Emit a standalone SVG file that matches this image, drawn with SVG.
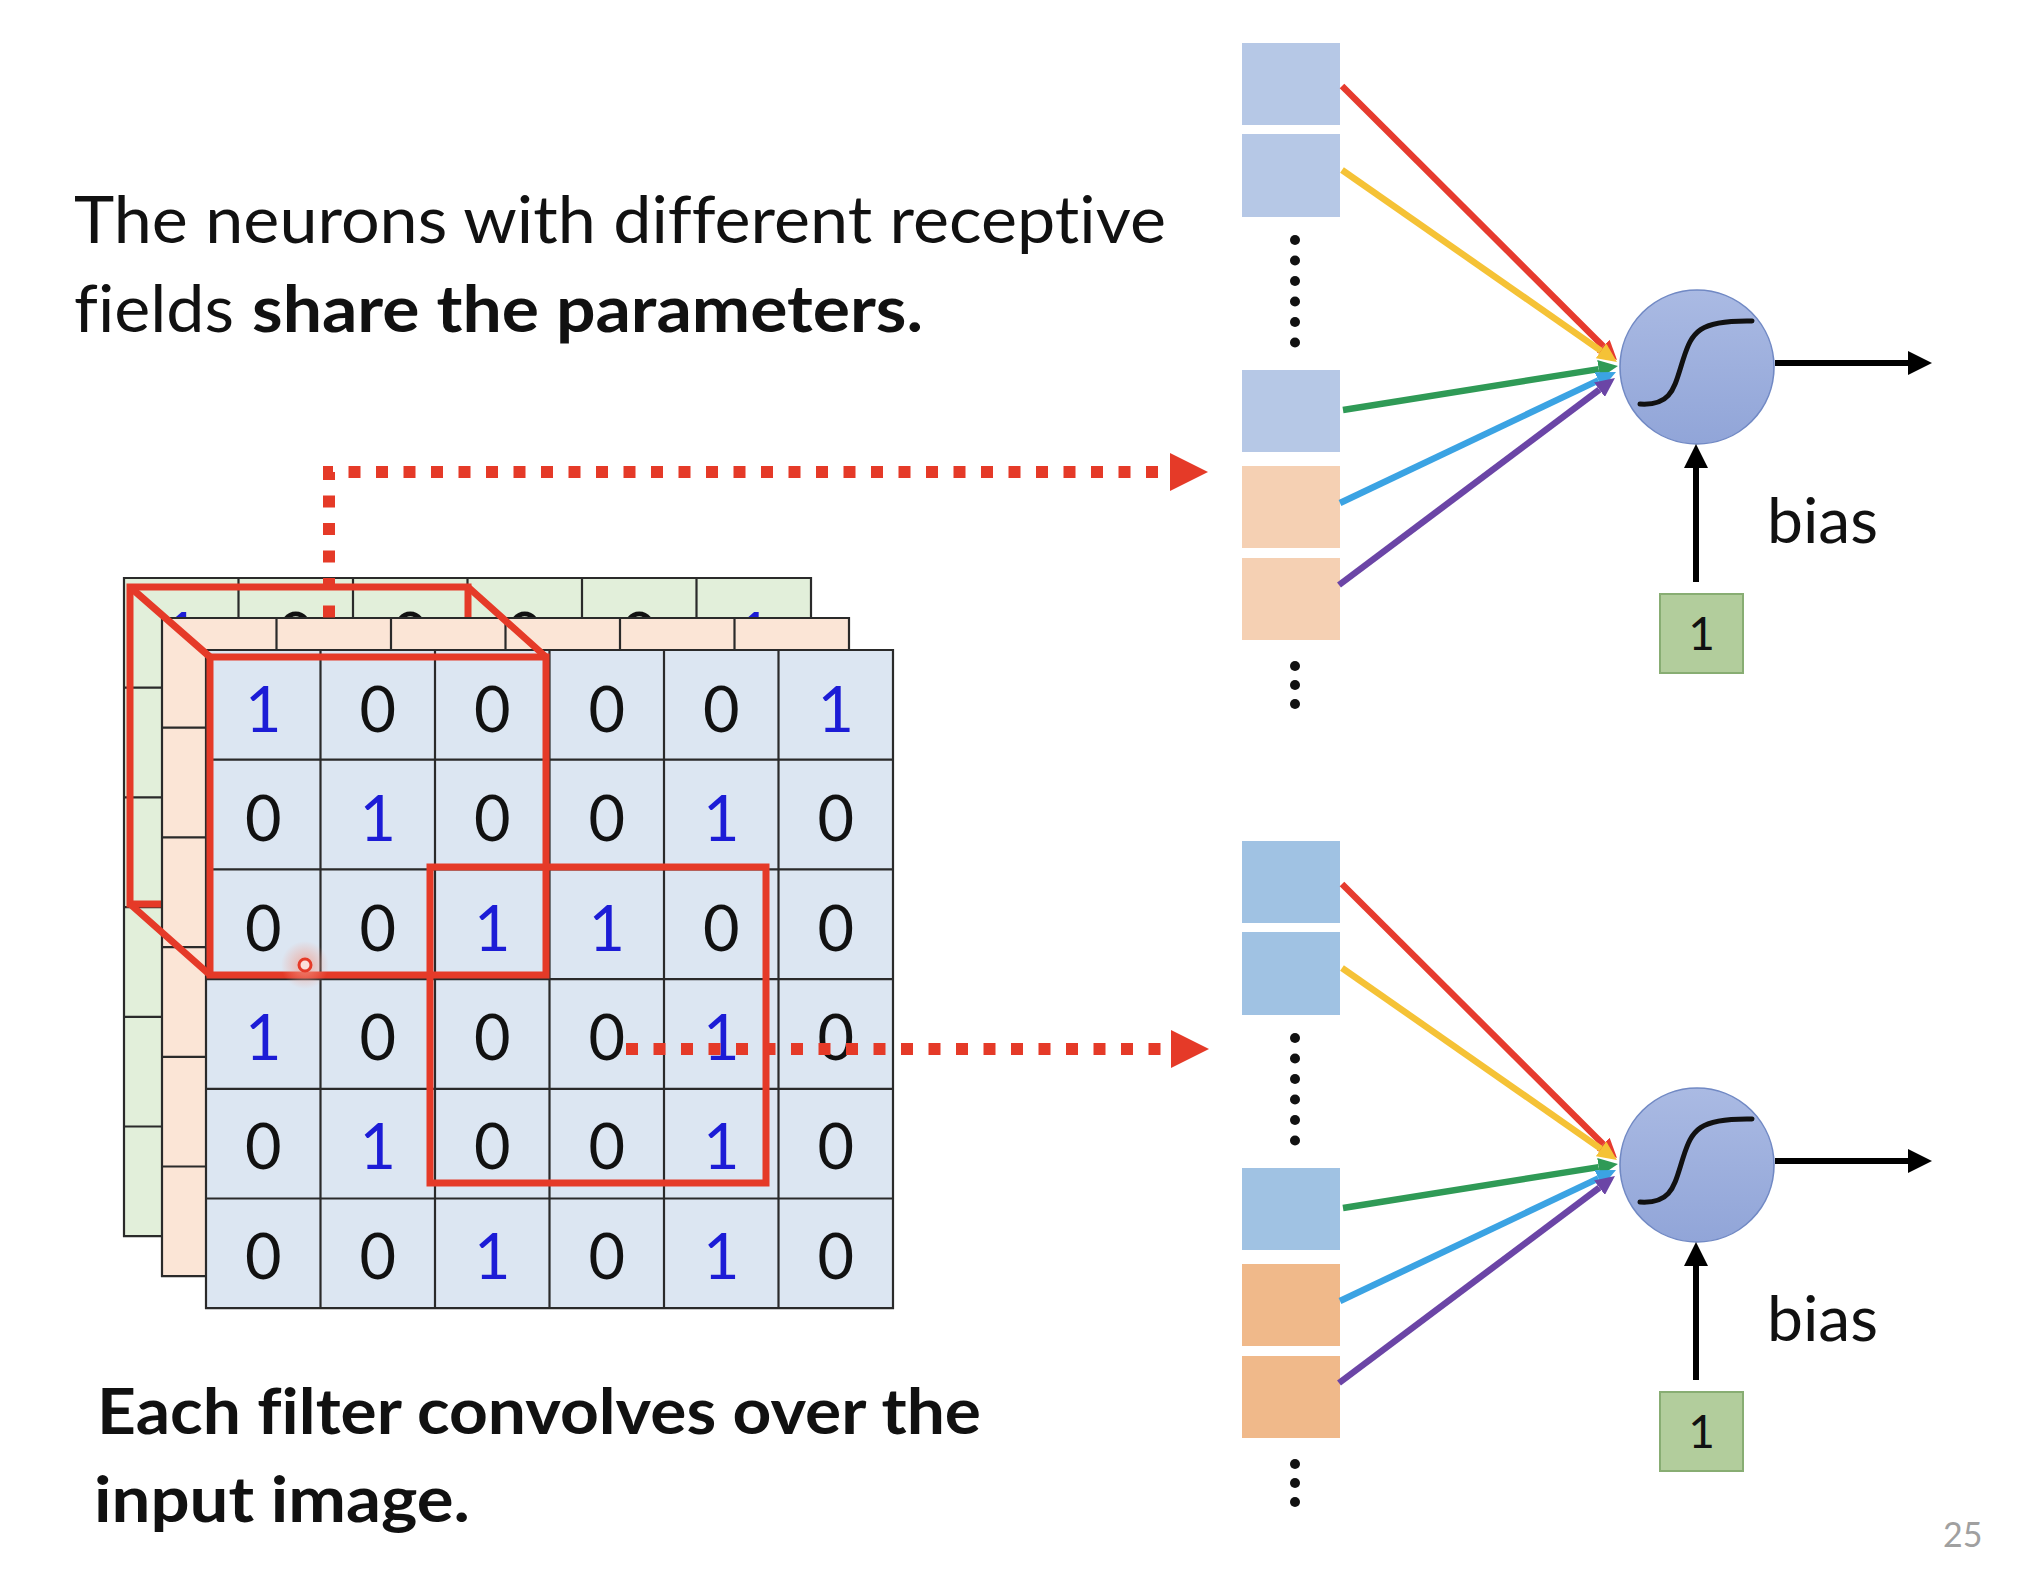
<svg xmlns="http://www.w3.org/2000/svg" width="2034" height="1584" viewBox="0 0 2034 1584">
<defs>
<style>
text{font-variant-ligatures:none}
.txt{font-family:Lato,"Open Sans","Liberation Sans",sans-serif;fill:#111}
.b{font-weight:bold}
.d{font-family:Lato,"Open Sans","Liberation Sans",sans-serif;font-size:63px;text-anchor:middle;fill:#111}
.d1{fill:#1c1cd6}
.gl{stroke:#2a2a2a;stroke-width:2.2;fill:none}
.frame{fill:none;stroke:#e53a28;stroke-width:7;stroke-linejoin:miter}
.dot{fill:none;stroke:#e53a28;stroke-width:12;stroke-dasharray:12 15.5}
.head{fill:#e53a28}
.sq1b{fill:#b6c8e6}.sq1p{fill:#f5d0b3}
.sq2b{fill:#a0c2e3}.sq2p{fill:#f0b98a}
.ell{fill:#111}
.neuron{fill:url(#ng);stroke:#7189c4;stroke-width:1.6}
.sig{fill:none;stroke:#111;stroke-width:5;stroke-linecap:round}
.one{fill:#b2cd9c;stroke:#88ad73;stroke-width:2}
.w{stroke-width:6.5;fill:none}
.blk{stroke:#000;stroke-width:6;fill:none}
</style>
<linearGradient id="ng" x1="0" y1="0" x2="0" y2="1">
<stop offset="0" stop-color="#aabae3"/>
<stop offset="1" stop-color="#91a5d8"/>
</linearGradient>
<radialGradient id="glow">
<stop offset="0" stop-color="#f2a090" stop-opacity="0.8"/>
<stop offset="1" stop-color="#f2a090" stop-opacity="0"/>
</radialGradient>
<marker id="mR" viewBox="0 0 3 2.8" refX="0" refY="1.4" markerWidth="3" markerHeight="2.8" orient="auto" markerUnits="strokeWidth"><path d="M0,0 L3,1.4 L0,2.8 z" fill="#e63b2e"/></marker>
<marker id="mY" viewBox="0 0 3 2.8" refX="0" refY="1.4" markerWidth="3" markerHeight="2.8" orient="auto" markerUnits="strokeWidth"><path d="M0,0 L3,1.4 L0,2.8 z" fill="#f5c236"/></marker>
<marker id="mG" viewBox="0 0 3 2.8" refX="0" refY="1.4" markerWidth="3" markerHeight="2.8" orient="auto" markerUnits="strokeWidth"><path d="M0,0 L3,1.4 L0,2.8 z" fill="#2f9a56"/></marker>
<marker id="mB" viewBox="0 0 3 2.8" refX="0" refY="1.4" markerWidth="3" markerHeight="2.8" orient="auto" markerUnits="strokeWidth"><path d="M0,0 L3,1.4 L0,2.8 z" fill="#3ba3e3"/></marker>
<marker id="mP" viewBox="0 0 3 2.8" refX="0" refY="1.4" markerWidth="3" markerHeight="2.8" orient="auto" markerUnits="strokeWidth"><path d="M0,0 L3,1.4 L0,2.8 z" fill="#6b45a6"/></marker>
<marker id="mK" viewBox="0 0 4 4" refX="0" refY="2" markerWidth="4" markerHeight="4" orient="auto" markerUnits="strokeWidth"><path d="M0,0 L4,2 L0,4 z" fill="#000"/></marker>
</defs>
<rect width="2034" height="1584" fill="#ffffff"/>

<g id="caption-top">
<text class="txt" x="74" y="243" font-size="65" textLength="1092" lengthAdjust="spacingAndGlyphs">The neurons with different receptive</text>
<text class="txt" x="74" y="332" font-size="65" textLength="160" lengthAdjust="spacingAndGlyphs">fields</text>
<text class="txt b" x="252" y="332" font-size="65" textLength="671" lengthAdjust="spacingAndGlyphs">share the parameters.</text>
</g>

<g id="caption-bottom">
<text class="txt b" x="97" y="1434" font-size="64" textLength="884" lengthAdjust="spacingAndGlyphs">Each filter convolves over the</text>
<text class="txt b" x="94" y="1522" font-size="64" textLength="376" lengthAdjust="spacingAndGlyphs">input image.</text>
</g>

<g id="input-image">
<g id="layer-green">
<rect x="124" y="578" width="687" height="658.2" fill="#e2efda"/>
<text class="d d1" x="181.25" y="658">1</text><text class="d" x="295.75" y="658">0</text><text class="d" x="410.25" y="658">0</text><text class="d" x="524.75" y="658">0</text><text class="d" x="639.25" y="658">0</text><text class="d d1" x="753.75" y="658">1</text>
<path class="gl" d="M124,578H811V1236.2H124Z M238.5,578V1236.2 M353,578V1236.2 M467.5,578V1236.2 M582,578V1236.2 M696.5,578V1236.2 M124,687.7H811 M124,797.4H811 M124,907.1H811 M124,1016.8H811 M124,1126.5H811"/>
</g>
<rect id="filter-back" class="frame" x="130" y="587" width="338" height="317"/>
<g id="layer-peach">
<rect x="162" y="618" width="687" height="658.2" fill="#fbe5d6"/>
<path class="gl" d="M162,618H849V1276.2H162Z M276.5,618V1276.2 M391,618V1276.2 M505.5,618V1276.2 M620,618V1276.2 M734.5,618V1276.2 M162,727.7H849 M162,837.4H849 M162,947.1H849 M162,1056.8H849 M162,1166.5H849"/>
</g>
<g id="layer-front">
<rect x="206" y="650" width="687" height="658.2" fill="#dce6f2"/>
<path class="gl" d="M206,650H893V1308.2H206Z M320.5,650V1308.2 M435,650V1308.2 M549.5,650V1308.2 M664,650V1308.2 M778.5,650V1308.2 M206,759.7H893 M206,869.4H893 M206,979.1H893 M206,1088.8H893 M206,1198.5H893"/>
<text class="d d1" x="263.25" y="732">1</text><text class="d" x="377.75" y="732">0</text><text class="d" x="492.25" y="732">0</text><text class="d" x="606.75" y="732">0</text><text class="d" x="721.25" y="732">0</text><text class="d d1" x="835.75" y="732">1</text>
<text class="d" x="263.25" y="841.3">0</text><text class="d d1" x="377.75" y="841.3">1</text><text class="d" x="492.25" y="841.3">0</text><text class="d" x="606.75" y="841.3">0</text><text class="d d1" x="721.25" y="841.3">1</text><text class="d" x="835.75" y="841.3">0</text>
<text class="d" x="263.25" y="950.6">0</text><text class="d" x="377.75" y="950.6">0</text><text class="d d1" x="492.25" y="950.6">1</text><text class="d d1" x="606.75" y="950.6">1</text><text class="d" x="721.25" y="950.6">0</text><text class="d" x="835.75" y="950.6">0</text>
<text class="d d1" x="263.25" y="1059.9">1</text><text class="d" x="377.75" y="1059.9">0</text><text class="d" x="492.25" y="1059.9">0</text><text class="d" x="606.75" y="1059.9">0</text><text class="d d1" x="721.25" y="1059.9">1</text><text class="d" x="835.75" y="1059.9">0</text>
<text class="d" x="263.25" y="1169.2">0</text><text class="d d1" x="377.75" y="1169.2">1</text><text class="d" x="492.25" y="1169.2">0</text><text class="d" x="606.75" y="1169.2">0</text><text class="d d1" x="721.25" y="1169.2">1</text><text class="d" x="835.75" y="1169.2">0</text>
<text class="d" x="263.25" y="1278.5">0</text><text class="d" x="377.75" y="1278.5">0</text><text class="d d1" x="492.25" y="1278.5">1</text><text class="d" x="606.75" y="1278.5">0</text><text class="d d1" x="721.25" y="1278.5">1</text><text class="d" x="835.75" y="1278.5">0</text>
</g>
<g id="filter-box">
<rect class="frame" x="210" y="657" width="336" height="318"/>
<path class="frame" d="M130,587L210,657 M468,587L546,657 M130,904L210,975"/>
</g>
<rect id="filter-box-2" class="frame" x="430" y="867" width="336" height="316"/>
<g id="cursor">
<circle cx="305" cy="965" r="24" fill="url(#glow)"/>
<circle cx="305" cy="965" r="6" fill="#fbe0da" stroke="#e53a28" stroke-width="3"/>
</g>
</g>

<g id="neuron-1">
<rect class="sq1b" x="1242" y="43" width="98" height="82"/>
<rect class="sq1b" x="1242" y="134" width="98" height="83"/>
<circle class="ell" cx="1295" cy="240" r="5"/><circle class="ell" cx="1295" cy="260.5" r="5"/><circle class="ell" cx="1295" cy="281" r="5"/><circle class="ell" cx="1295" cy="301.5" r="5"/><circle class="ell" cx="1295" cy="322" r="5"/><circle class="ell" cx="1295" cy="342.5" r="5"/>
<rect class="sq1b" x="1242" y="370" width="98" height="82"/>
<rect class="sq1p" x="1242" y="466" width="98" height="82"/>
<rect class="sq1p" x="1242" y="558" width="98" height="82"/>
<circle class="ell" cx="1295" cy="666" r="5"/><circle class="ell" cx="1295" cy="685" r="5"/><circle class="ell" cx="1295" cy="704" r="5"/>
<circle class="neuron" cx="1697" cy="367" r="77"/>
<path class="sig" d="M1640,404 C1672,406 1674,388 1683,360 C1692,332 1698,320 1752,321"/>
<rect class="one" x="1660" y="594" width="83" height="79"/>
<text class="txt" x="1701.5" y="650" font-size="46" text-anchor="middle">1</text>
<text class="txt" x="1767" y="543" font-size="62" textLength="111" lengthAdjust="spacingAndGlyphs">bias</text>
</g>

<g id="neuron-2">
<rect class="sq2b" x="1242" y="841" width="98" height="82"/>
<rect class="sq2b" x="1242" y="932" width="98" height="83"/>
<circle class="ell" cx="1295" cy="1038" r="5"/><circle class="ell" cx="1295" cy="1058.5" r="5"/><circle class="ell" cx="1295" cy="1079" r="5"/><circle class="ell" cx="1295" cy="1099.5" r="5"/><circle class="ell" cx="1295" cy="1120" r="5"/><circle class="ell" cx="1295" cy="1140.5" r="5"/>
<rect class="sq2b" x="1242" y="1168" width="98" height="82"/>
<rect class="sq2p" x="1242" y="1264" width="98" height="82"/>
<rect class="sq2p" x="1242" y="1356" width="98" height="82"/>
<circle class="ell" cx="1295" cy="1464" r="5"/><circle class="ell" cx="1295" cy="1483" r="5"/><circle class="ell" cx="1295" cy="1502" r="5"/>
<circle class="neuron" cx="1697" cy="1165" r="77"/>
<path class="sig" d="M1640,1202 C1672,1204 1674,1186 1683,1158 C1692,1130 1698,1118 1752,1119"/>
<rect class="one" x="1660" y="1392" width="83" height="79"/>
<text class="txt" x="1701.5" y="1448" font-size="46" text-anchor="middle">1</text>
<text class="txt" x="1767" y="1341" font-size="62" textLength="111" lengthAdjust="spacingAndGlyphs">bias</text>
</g>

<g id="connectors">
<path class="dot" d="M329,617.5V472H1163"/>
<polygon class="head" points="1170,453 1208,472 1170,491"/>
<path class="dot" d="M626,1049H1163"/>
<polygon class="head" points="1171,1030 1209,1049 1171,1068"/>

<line class="w" x1="1342" y1="86" x2="1603.2" y2="346.2" stroke="#e63b2e" marker-end="url(#mR)"/>
<line class="w" x1="1342" y1="170" x2="1601" y2="350.8" stroke="#f5c236" marker-end="url(#mY)"/>
<line class="w" x1="1343" y1="410" x2="1598.7" y2="369.1" stroke="#2f9a56" marker-end="url(#mG)"/>
<line class="w" x1="1340" y1="503" x2="1598.4" y2="380.4" stroke="#3ba3e3" marker-end="url(#mB)"/>
<line class="w" x1="1339" y1="585" x2="1599.4" y2="389.7" stroke="#6b45a6" marker-end="url(#mP)"/>
<line class="blk" x1="1775" y1="363" x2="1908" y2="363" marker-end="url(#mK)"/>
<line class="blk" x1="1696" y1="582" x2="1696" y2="468" marker-end="url(#mK)"/>

<line class="w" x1="1342" y1="884" x2="1603.2" y2="1144.2" stroke="#e63b2e" marker-end="url(#mR)"/>
<line class="w" x1="1342" y1="968" x2="1601" y2="1148.8" stroke="#f5c236" marker-end="url(#mY)"/>
<line class="w" x1="1343" y1="1208" x2="1598.7" y2="1167.1" stroke="#2f9a56" marker-end="url(#mG)"/>
<line class="w" x1="1340" y1="1301" x2="1598.4" y2="1178.4" stroke="#3ba3e3" marker-end="url(#mB)"/>
<line class="w" x1="1339" y1="1383" x2="1599.4" y2="1187.7" stroke="#6b45a6" marker-end="url(#mP)"/>
<line class="blk" x1="1775" y1="1161" x2="1908" y2="1161" marker-end="url(#mK)"/>
<line class="blk" x1="1696" y1="1380" x2="1696" y2="1266" marker-end="url(#mK)"/>
</g>

<text id="page-number" x="1943" y="1547" font-family="Lato,'Open Sans','Liberation Sans',sans-serif" font-size="34" fill="#a0a0a0">25</text>
</svg>
